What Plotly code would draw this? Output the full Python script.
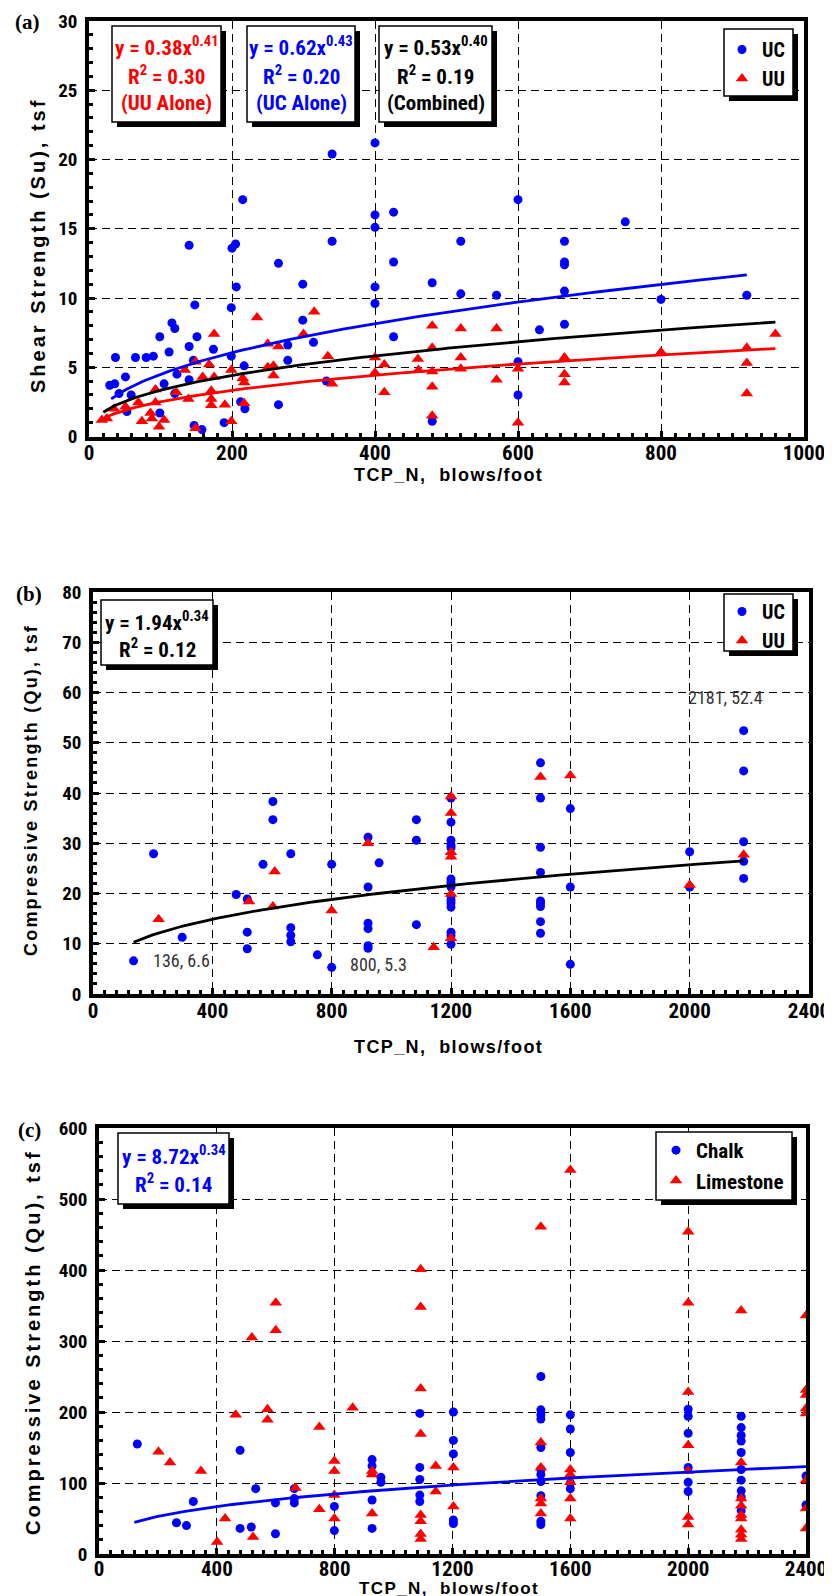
import numpy as np
import plotly.graph_objects as go

W, H = 832, 1596
NARROW = ("Liberation Sans Narrow, Arial Narrow, Roboto Condensed, Noto Sans Condensed, "
          "DejaVu Sans Condensed, Liberation Sans, Arial, sans-serif")
SANS = "Liberation Sans, Arial, sans-serif"
SERIF = "Liberation Serif, Times New Roman, serif"
BLUE = "#0000FF"
RED = "#FF0000"

# ---------------- Panel (a) data : TCP_N vs Su ----------------
a_uc_points = [
    [29, 3.7], [36, 3.8], [37, 5.7], [42, 3.1], [51, 4.3], [53, 1.8], [59, 3.0], [65, 5.7],
    [80, 5.7], [90, 5.8], [99, 1.7], [99, 7.2], [105, 3.8], [112, 6.1], [116, 8.2], [120, 7.8],
    [120, 3.1], [123, 4.5], [140, 13.8], [140, 6.5], [140, 4.1], [146, 5.5], [147, 0.8], [148, 9.5],
    [151, 7.2], [158, 0.5], [174, 6.3], [189, 1.0], [199, 9.3], [199, 5.8], [200, 13.6], [205, 13.9],
    [206, 10.8], [212, 2.5], [215, 17.1], [217, 5.1], [218, 2.0], [265, 12.5], [265, 2.3], [278, 6.6],
    [278, 5.5], [299, 11.0], [299, 8.4], [314, 6.8], [332, 4.0], [340, 20.4], [340, 14.1], [400, 21.2],
    [400, 16.0], [400, 15.1], [400, 10.8], [400, 9.6], [426, 16.2], [426, 12.6], [426, 7.2], [480, 11.1],
    [480, 1.1], [520, 14.1], [520, 10.3], [570, 10.2], [600, 17.1], [600, 5.4], [600, 3.0], [630, 7.7],
    [665, 14.1], [665, 12.6], [665, 12.4], [665, 10.5], [665, 8.1], [750, 15.5], [800, 9.9], [920, 10.2],
]
a_uu_points = [
    [18, 1.2], [25, 1.3], [35, 2.0], [51, 2.15], [69, 2.45], [74, 1.1], [86, 1.7], [88, 1.3],
    [93, 3.4], [93, 2.45], [98, 0.7], [105, 1.2], [122, 3.2], [134, 4.8], [139, 2.7], [149, 5.4],
    [149, 0.6], [159, 4.3], [168, 5.2], [171, 3.3], [171, 2.7], [171, 2.25], [175, 7.4], [175, 4.3],
    [190, 2.3], [199, 4.8], [199, 1.1], [215, 4.2], [217, 3.9], [217, 2.4], [235, 8.6], [250, 6.7],
    [250, 5.0], [258, 5.1], [258, 4.4], [265, 6.5], [300, 7.4], [315, 9.0], [334, 5.8], [340, 3.8],
    [400, 5.7], [400, 4.6], [413, 5.2], [413, 3.2], [460, 5.6], [461, 4.8], [480, 8.0], [480, 6.4],
    [480, 4.7], [480, 3.6], [480, 1.5], [520, 7.8], [520, 5.7], [520, 4.9], [570, 7.8], [570, 4.1],
    [600, 4.9], [600, 1.0], [665, 5.7], [665, 4.5], [665, 3.9], [800, 6.1], [920, 6.4], [920, 5.3],
    [920, 3.1], [960, 7.4],
]
# power-law fits y = coef * x^exp (coefficients as printed on the chart)
a_fit_uc = {"coef": 0.62, "exp": 0.43, "xmin": 31, "xmax": 920}
a_fit_uu = {"coef": 0.38, "exp": 0.41, "xmin": 16, "xmax": 960}
a_fit_all = {"coef": 0.53, "exp": 0.40, "xmin": 20, "xmax": 960}

# ---------------- Panel (b) data : TCP_N vs Qu ----------------
b_uc_points = [
    [136, 6.6], [203, 27.9], [299, 11.3], [480, 19.8], [517, 18.9], [517, 12.3], [517, 9.0],
    [570, 25.8], [603, 38.3], [603, 34.7], [663, 27.9], [663, 13.2], [663, 11.7], [663, 10.4],
    [752, 7.8], [800, 25.8], [800, 5.3], [922, 31.2], [922, 21.3], [922, 14.1], [922, 13.0],
    [922, 9.6], [922, 9.1], [959, 26.1], [1084, 34.7], [1084, 30.6], [1084, 13.8],
    [1200, 39.0], [1200, 34.2], [1200, 30.6], [1200, 29.6], [1200, 29.1], [1200, 22.9], [1200, 22.2],
    [1200, 21.3], [1200, 19.5], [1200, 18.7], [1200, 18.1], [1200, 17.3], [1200, 12.3], [1200, 11.6],
    [1200, 9.9], [1500, 46.0], [1500, 39.0], [1500, 29.2], [1500, 24.2], [1500, 18.5], [1500, 18.0],
    [1500, 17.4], [1500, 14.4], [1500, 12.1], [1600, 36.9], [1600, 21.3], [1600, 5.9], [2000, 28.3],
    [2000, 21.3], [2181, 52.4], [2181, 44.4], [2181, 30.3], [2181, 26.4], [2181, 23.0],
]
b_uu_points = [
    [220, 14.9], [523, 18.4], [603, 17.4], [609, 24.4], [800, 16.6], [922, 30.0], [1142, 9.3],
    [1200, 39.3], [1200, 36.0], [1200, 28.2], [1200, 27.3], [1200, 19.9], [1200, 11.1],
    [1500, 43.2], [1600, 43.5], [2000, 21.7], [2181, 27.7],
]
b_fit = {"coef": 1.94, "exp": 0.34, "xmin": 136, "xmax": 2181}
b_labels = [[136, 6.6, "136, 6.6"], [800, 5.3, "800, 5.3"], [2181, 52.4, "2181, 52.4"]]

# ---------------- Panel (c) data : Chalk / Limestone ----------------
c_chalk_points = [
    [130, 155], [263, 44], [297, 40], [320, 74], [479, 146], [479, 36], [517, 38], [532, 92],
    [599, 72], [599, 28.5], [663, 92], [663, 78], [663, 72], [799, 67], [799, 33], [927, 133],
    [927, 124], [927, 76], [927, 36], [957, 108], [957, 101], [1089, 198], [1089, 122], [1089, 105],
    [1089, 83], [1089, 74], [1203, 200], [1203, 160], [1203, 141], [1203, 48], [1203, 43],
    [1500, 250], [1500, 203], [1500, 196], [1500, 190], [1500, 150], [1500, 119], [1500, 112],
    [1500, 102], [1500, 82], [1500, 46], [1500, 41.5], [1600, 196], [1600, 176], [1600, 143],
    [1600, 100], [1600, 92], [2000, 204], [2000, 194], [2000, 170], [2000, 122], [2000, 101],
    [2000, 88], [2180, 194], [2180, 178], [2180, 167], [2180, 159], [2180, 143], [2180, 119],
    [2180, 104], [2180, 89], [2180, 80], [2180, 61], [2400, 110], [2400, 69],
]
c_lime_points = [
    [202, 144], [241, 129], [346, 117], [401, 17], [428, 50], [464, 196], [519, 305], [523, 24],
    [572, 204], [572, 189], [600, 354], [600, 315], [667, 93], [748, 179], [748, 63], [799, 131],
    [799, 117], [799, 83], [799, 50], [861, 206], [927, 117], [927, 112], [927, 57], [1092, 401],
    [1092, 348], [1092, 233], [1092, 169], [1092, 55], [1092, 46], [1092, 28], [1092, 21],
    [1143, 124], [1143, 88], [1203, 122], [1203, 67], [1500, 461], [1500, 157], [1500, 122],
    [1500, 78], [1500, 71], [1500, 57], [1600, 541], [1600, 119], [1600, 112], [1600, 101],
    [1600, 78], [1600, 50], [2000, 454], [2000, 354], [2000, 228], [2000, 153], [2000, 117],
    [2000, 52], [2000, 41.5], [2180, 343], [2180, 129], [2180, 78], [2180, 68], [2180, 55],
    [2180, 50], [2180, 34], [2180, 27], [2180, 21], [2400, 336], [2400, 231], [2400, 224],
    [2400, 205], [2400, 198], [2400, 104], [2400, 64], [2400, 36],
]
c_fit = {"coef": 8.72, "exp": 0.34, "xmin": 120, "xmax": 2400}

# ---------------- layout helpers (pixels -> paper) ----------------
def px(x):
    return x / W


def py(y):
    return 1 - y / H


fig = go.Figure()


def add_pts(pts, name, color, symbol, size, xa, ya, legend):
    fig.add_trace(go.Scatter(
        x=[p[0] for p in pts], y=[p[1] for p in pts], mode="markers", name=name,
        marker=dict(color=color, symbol=symbol, size=size, line=dict(width=0)),
        xaxis=xa, yaxis=ya, legend=legend, legendgroup=legend + name, hoverinfo="x+y"))


def add_fit(f, color, xa, ya):
    xs = np.linspace(f["xmin"], f["xmax"], 200)
    fig.add_trace(go.Scatter(
        x=xs, y=f["coef"] * xs ** f["exp"], mode="lines", line=dict(color=color, width=2.8),
        xaxis=xa, yaxis=ya, showlegend=False, hoverinfo="skip"))


add_pts(a_uc_points, "UC", BLUE, "circle", 9, "x", "y", "legend")
add_pts(a_uu_points, "UU", RED, "triangle-up", 11, "x", "y", "legend")
add_fit(a_fit_uc, BLUE, "x", "y")
add_fit(a_fit_all, "black", "x", "y")
add_fit(a_fit_uu, RED, "x", "y")

add_pts(b_uc_points, "UC", BLUE, "circle", 9, "x2", "y2", "legend2")
add_pts(b_uu_points, "UU", RED, "triangle-up", 11, "x2", "y2", "legend2")
add_fit(b_fit, "black", "x2", "y2")

add_pts(c_chalk_points, "Chalk", BLUE, "circle", 9, "x3", "y3", "legend3")
add_pts(c_lime_points, "Limestone", RED, "triangle-up", 11, "x3", "y3", "legend3")
add_fit(c_fit, BLUE, "x3", "y3")


def axis(rng, dtick, minor, dom, anchor, fsize, standoff):
    return dict(
        range=rng, domain=dom, anchor=anchor, tick0=0, dtick=dtick,
        showgrid=True, gridcolor="black", gridwidth=1, griddash="8px,5px",
        showline=True, linecolor="black", linewidth=3.5, mirror=True, zeroline=False,
        ticks="inside", ticklen=6, tickwidth=2.5, tickcolor="black",
        minor=dict(dtick=minor, tick0=0, ticks="inside", ticklen=4, tickwidth=3,
                   tickcolor="black", showgrid=False),
        tickfont=dict(family=NARROW, size=fsize, color="black", weight="bold"),
        ticklabelstandoff=standoff, ticklabeloverflow="allow",
        fixedrange=True, automargin=False)


# panel pixel boxes: left, right, top, bottom
PA = (81, 796, 13, 428.5)
PB = (85, 801, 584, 986)
PC = (91, 798, 1120, 1546)


def xdom(p):
    return [px(p[0]), px(p[1])]


def ydom(p):
    return [py(p[3]), py(p[2])]


fig.update_layout(
    width=W, height=H, margin=dict(l=0, r=0, t=0, b=0),
    paper_bgcolor="white", plot_bgcolor="white",
    xaxis=axis([0, 1000], 200, 20, xdom(PA), "y", 21, -5),
    yaxis=axis([0, 30], 5, 1, ydom(PA), "x", 19, 4),
    xaxis2=axis([0, 2400], 400, 40, xdom(PB), "y2", 21, -5),
    yaxis2=axis([0, 80], 10, 2, ydom(PB), "x2", 19, 4),
    xaxis3=axis([0, 2400], 400, 40, xdom(PC), "y3", 21, -7),
    yaxis3=axis([0, 600], 100, 20, ydom(PC), "x3", 19, 4),
    showlegend=True,
)

leg_common = dict(bgcolor="rgba(0,0,0,0)", borderwidth=0, xanchor="right", yanchor="top",
                  traceorder="grouped", tracegroupgap=0, itemclick=False, itemdoubleclick=False)
LEGFONT = dict(family=NARROW, size=20, color="black", weight="bold")
fig.update_layout(
    legend=dict(x=px(782), y=py(22), font=LEGFONT, **leg_common),
    legend2=dict(x=px(782), y=py(584), font=LEGFONT, **leg_common),
    legend3=dict(x=px(781), y=py(1122), font=dict(LEGFONT, size=21), **leg_common),
)

shapes = []


def shadow_box(x0, y0, x1, y1, off=5):
    shapes.append(dict(type="rect", xref="paper", yref="paper", layer="above",
                       x0=px(x0 + off), x1=px(x1 + off), y0=py(y0 + off), y1=py(y1 + off),
                       fillcolor="black", line=dict(width=0)))
    shapes.append(dict(type="rect", xref="paper", yref="paper", layer="above",
                       x0=px(x0), x1=px(x1), y0=py(y0), y1=py(y1),
                       fillcolor="white", line=dict(color="black", width=1.5)))


# equation boxes
shadow_box(104, 18, 213, 114)
shadow_box(239, 18, 347, 114)
shadow_box(371, 18, 484, 114)
shadow_box(93, 592, 205, 657)
shadow_box(110, 1125, 221, 1196)
# legend boxes
shadow_box(716, 21, 785, 88)
shadow_box(716, 586, 785, 643)
shadow_box(648, 1124, 784, 1192)
fig.update_layout(shapes=shapes)

ann = []


def text(x, y, s, color="black", size=21, family=NARROW, weight="bold", angle=0, xanchor="center"):
    ann.append(dict(x=px(x), y=py(y), xref="paper", yref="paper", text=s, showarrow=False,
                    xanchor=xanchor, yanchor="middle", textangle=angle,
                    font=dict(family=family, size=size, color=color, weight=weight)))


# panel labels
text(19, 14, "(a)", size=21, family=SERIF)
text(21, 586, "(b)", size=21, family=SERIF)
text(21, 1122, "(c)", size=21, family=SERIF)

# equations
text(158.5, 38, "y = 0.38x<sup>0.41</sup>", RED)
text(158.5, 67, "R<sup>2</sup> = 0.30", RED)
text(158.5, 95, "(UU Alone)", RED)
text(293, 38, "y = 0.62x<sup>0.43</sup>", BLUE)
text(293, 67, "R<sup>2</sup> = 0.20", BLUE)
text(293, 95, "(UC Alone)", BLUE)
text(427.5, 38, "y = 0.53x<sup>0.40</sup>")
text(427.5, 67, "R<sup>2</sup> = 0.19")
text(427.5, 95, "(Combined)")
text(149, 613, "y = 1.94x<sup>0.34</sup>")
text(149, 640, "R<sup>2</sup> = 0.12")
text(165.5, 1147, "y = 8.72x<sup>0.34</sup>", BLUE)
text(165.5, 1175, "R<sup>2</sup> = 0.14", BLUE)


# axis titles (letter-spaced bold sans)
def sp(s, size, ls):
    return '<span style="font-size:%dpx;letter-spacing:%.1fpx">%s</span>' % (size, ls, s)


XT = "TCP_N,\u00a0 blows/foot"
text(441, 467, sp(XT, 18, 1.4), size=18, family=SANS)
text(441, 1039, sp(XT, 18, 1.4), size=18, family=SANS)
text(441, 1580, sp(XT, 17, 1.4), size=17, family=SANS)
text(30, 238, sp("Shear Strength (Su), tsf", 20, 3.0), size=20, family=SANS, angle=-90)
text(23, 782, sp("Compressive Strength (Qu), tsf", 18, 2.2), size=18, family=SANS, angle=-90)
text(25, 1334, sp("Compressive Strength (Qu), tsf", 20, 3.0), size=20, family=SANS, angle=-90)

# point labels in (b)
shifts = {"136, 6.6": (17, 0, "left"), "800, 5.3": (16, 3, "left"), "2181, 52.4": (-18, 33, "center")}
for lx, ly, lt in b_labels:
    dx, dy, anc = shifts[lt]
    ann.append(dict(x=lx, y=ly, xref="x2", yref="y2", text=lt, showarrow=False,
                    xanchor=anc, yanchor="middle", xshift=dx, yshift=dy,
                    font=dict(family=NARROW, size=18, color="#333333")))

fig.update_layout(annotations=ann)

fig.write_html("out.html")
